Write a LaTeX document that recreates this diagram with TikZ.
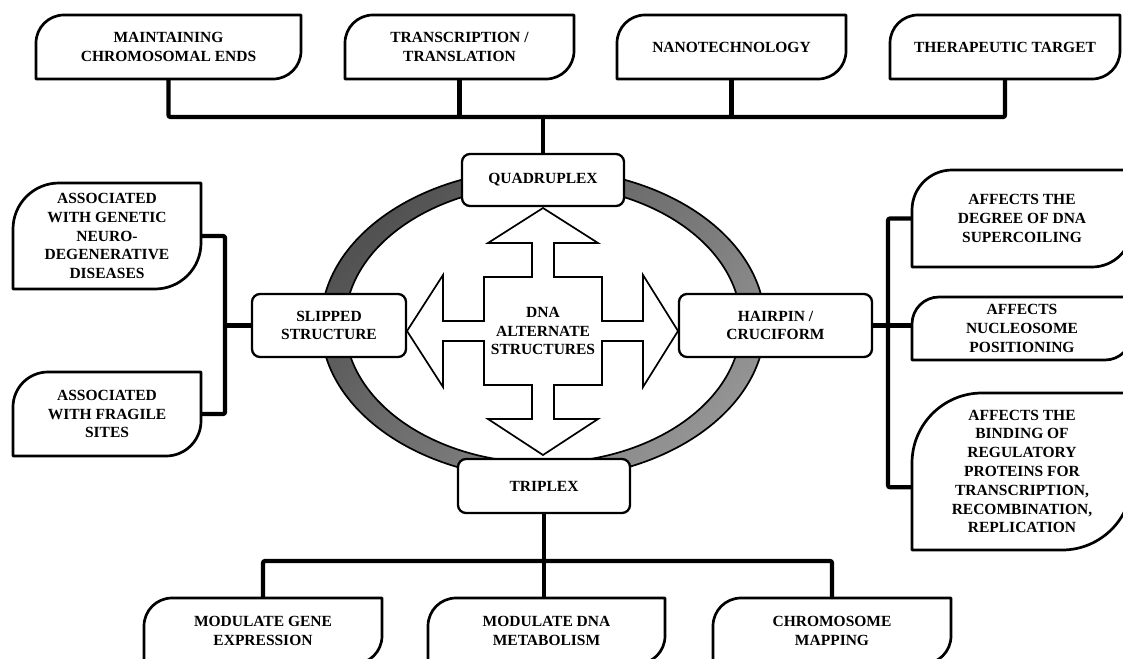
\documentclass[tikz,border=0pt]{standalone}
\usepackage{fontspec}
\setmainfont{Liberation Serif}
\usetikzlibrary{calc}
\tikzset{
  txt/.style={align=center, font=\fontsize{15.5}{18.8}\selectfont\bfseries, inner sep=0pt},
  boxline/.style={draw=black, line width=2.7pt, fill=white, line join=round},
  conn/.style={draw=black, line width=4.2pt, rounded corners=2pt},
  smallbox/.style={txt, draw=black, line width=2.3pt, fill=white, rounded corners=8pt},
  ringline/.style={draw=black, line width=1.7pt, even odd rule, top color=black!68, bottom color=black!42, shading angle=45},
  arrowline/.style={draw=black, line width=1.7pt, fill=white, line join=miter},
}
% #1 name, #2 left, #3 top, #4 right, #5 bottom, #6 corner radius, #7 text
\newcommand\rdbox[7]{%
  \path[boxline] (#2,#3+#6) .. controls (#2,#3+0.448*#6) and (#2+0.448*#6,#3) .. (#2+#6,#3) -- (#4,#3) -- (#4,#5-#6) .. controls (#4,#5-0.448*#6) and (#4-0.448*#6,#5) .. (#4-#6,#5) -- (#2,#5) -- cycle;
  \node[txt, minimum width={(#4-#2)*1pt}, minimum height={(#5-#3)*1pt}] (#1) at ({(#2+#4)/2},{(#3+#5)/2}) {#7};
}
\begin{document}
\begin{tikzpicture}[x=1pt,y=-1pt]
\useasboundingbox (0,0) rectangle (1123,658);
\clip (0,0) rectangle (1123,658);

% ring
\path[ringline] (543,324) ellipse [x radius=222, y radius=155] (543,324) ellipse [x radius=198, y radius=139];

% four-way arrow
\draw[arrowline] (543,208) -- (598,243) -- (554,243) -- (554,277) -- (602,277) -- (602,321) -- (643,321) -- (643,275) -- (678,331) -- (643,387) -- (643,341) -- (602,341) -- (602,385) -- (554,385) -- (554,419) -- (598,419) -- (543,455) -- (488,419) -- (532,419) -- (532,385) -- (484,385) -- (484,341) -- (443,341) -- (443,387) -- (407,331) -- (443,275) -- (443,321) -- (484,321) -- (484,277) -- (532,277) -- (532,243) -- (488,243) -- cycle;
\node[txt] (dna) at (543,331) {DNA\\ALTERNATE\\STRUCTURES};

% central boxes
\node[smallbox, minimum width=162pt, minimum height=52pt] (quad) at (543,180) {QUADRUPLEX};
\node[smallbox, minimum width=154pt, minimum height=63pt] (slipped) at (329,325.5) {SLIPPED\\STRUCTURE};
\node[smallbox, minimum width=193pt, minimum height=63pt] (hairpin) at (775.5,325.5) {HAIRPIN /\\CRUCIFORM};
\node[smallbox, minimum width=172pt, minimum height=54pt] (triplex) at (544,486) {TRIPLEX};

% top boxes
\rdbox{m1}{36}{15}{301}{79}{28}{MAINTAINING\\CHROMOSOMAL ENDS}
\rdbox{m2}{345}{15}{574}{79}{28}{TRANSCRIPTION /\\TRANSLATION}
\rdbox{m3}{617}{15}{846}{79}{28}{NANOTECHNOLOGY}
\rdbox{m4}{890}{15}{1120}{79}{28}{THERAPEUTIC TARGET}

% left boxes
\rdbox{la}{13}{183}{201}{289}{46}{ASSOCIATED\\WITH GENETIC\\NEURO-\\DEGENERATIVE\\DISEASES}
\rdbox{lb}{13}{372}{201}{456}{35}{ASSOCIATED\\WITH FRAGILE\\SITES}

% right boxes
\rdbox{ra}{912}{170}{1132}{267}{40}{AFFECTS THE\\DEGREE OF DNA\\SUPERCOILING}
\rdbox{rb}{912}{297}{1132}{360}{27}{AFFECTS\\NUCLEOSOME\\POSITIONING}
\rdbox{rc}{912}{393}{1132}{550}{70}{AFFECTS THE\\BINDING OF\\REGULATORY\\PROTEINS FOR\\TRANSCRIPTION,\\RECOMBINATION,\\REPLICATION}

% bottom boxes
\rdbox{b1}{144}{598}{382}{664}{28}{MODULATE GENE\\EXPRESSION}
\rdbox{b2}{428}{598}{665}{664}{28}{MODULATE DNA\\METABOLISM}
\rdbox{b3}{713}{598}{951}{664}{28}{CHROMOSOME\\MAPPING}

% connectors
\coordinate (topbar) at (543,117);
\draw[conn] (m1.south) |- (m4.south |- topbar) -- (m4.south);
\draw[conn] (m2.south) -- (m2.south |- topbar);
\draw[conn] (m3.south) -- (m3.south |- topbar);
\draw[conn] (quad.north) -- (topbar);

\coordinate (lbr) at (225,325.5);
\draw[conn] (la.east) -| (lbr) |- (lb.east);
\draw[conn] (slipped.west) -- (lbr);

\coordinate (rbr) at (888,325.5);
\draw[conn] (ra.west) -| (rbr) |- ($(rc.south west)!0.4!(rc.north west)$);
\draw[conn] (hairpin.east) -- (hairpin.east -| rb.west);

\coordinate (botbar) at (544,561);
\draw[conn] (b1.north) |- (b3.north |- botbar) -- (b3.north);
\draw[conn] (triplex.south) -- (triplex.south |- b2.north);
\end{tikzpicture}
\end{document}
